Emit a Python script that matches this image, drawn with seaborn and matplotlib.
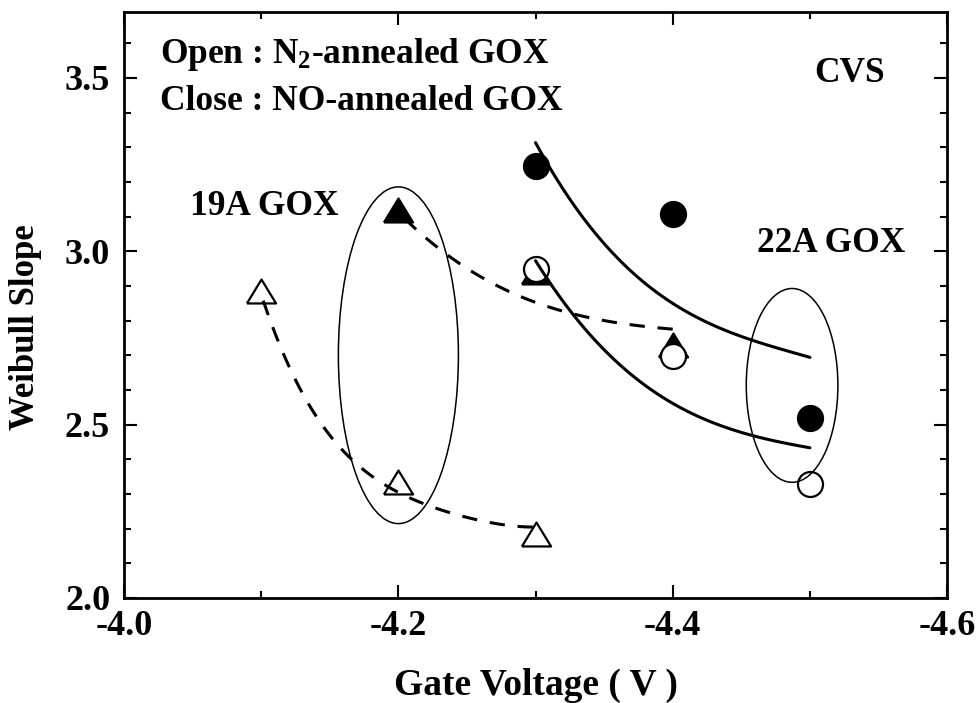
import matplotlib
matplotlib.use("Agg")
import numpy as np
import pandas as pd
import seaborn as sns
import matplotlib.pyplot as plt
from matplotlib.patches import Ellipse
from matplotlib.ticker import MultipleLocator

# Measured Weibull slopes versus gate voltage
v19_n2 = [-4.1, -4.2, -4.3]
slope19_n2 = [2.885, 2.335, 2.185]
v19_no = [-4.2, -4.3, -4.4]
slope19_no = [3.12, 2.94, 2.73]
v22 = [-4.3, -4.4, -4.5]
slope22_no = [3.245, 3.107, 2.52]
slope22_n2 = [2.948, 2.697, 2.33]

# Points along the trend curves
trend19_n2_v = [-4.100, -4.114, -4.128, -4.143, -4.162, -4.182, -4.199, -4.218, -4.243, -4.279, -4.298]
trend19_n2_s = [2.870, 2.741, 2.592, 2.505, 2.418, 2.351, 2.307, 2.269, 2.240, 2.211, 2.204]
trend19_no_v = [-4.200, -4.211, -4.235, -4.260, -4.296, -4.332, -4.369, -4.400]
trend19_no_s = [3.110, 3.073, 2.991, 2.924, 2.861, 2.813, 2.789, 2.775]
trend22_v = [-4.300, -4.323, -4.347, -4.371, -4.396, -4.420, -4.456, -4.500]
trend22_no_s = [3.314, 3.160, 3.035, 2.939, 2.861, 2.803, 2.746, 2.694]
trend22_n2_s = [2.972, 2.842, 2.726, 2.640, 2.572, 2.520, 2.471, 2.433]

x_ticks = [-4.0, -4.2, -4.4, -4.6]
y_ticks = [2.0, 2.5, 3.0, 3.5]

sns.set_style("ticks")
plt.rcParams.update({
    "font.family": ["Liberation Serif", "DejaVu Serif"],
    "font.weight": "bold",
    "text.color": "black",
    "axes.labelcolor": "black",
    "xtick.color": "black",
    "ytick.color": "black",
    "axes.unicode_minus": False,
    "mathtext.fontset": "custom",
    "mathtext.rm": "Liberation Serif:bold",
    "mathtext.it": "Liberation Serif:bold",
    "mathtext.bf": "Liberation Serif:bold",
})

fig = plt.figure(figsize=(9.79, 7.03), dpi=100)
ax = fig.add_axes([0.1267, 0.1494, 0.8407, 0.8336])

FS = 25.5
TICK_FS = 26
# slightly flattened triangle
tri = [(-1.0, -0.82), (1.0, -0.82), (0.0, 0.82), (-1.0, -0.82)]
tri_size = 21 ** 2
circ_size = 18 ** 2
edge_w = 1.6

# markers
sns.scatterplot(x=v19_n2, y=slope19_n2, marker=tri, s=tri_size, color="white",
                edgecolor="black", linewidth=edge_w, ax=ax, zorder=2)
sns.scatterplot(x=v19_no, y=slope19_no, marker=tri, s=tri_size, color="black",
                edgecolor="black", linewidth=edge_w, ax=ax, zorder=2)
sns.scatterplot(x=v22, y=slope22_no, marker="o", s=circ_size, color="black",
                edgecolor="black", linewidth=edge_w, ax=ax, zorder=2.1)
sns.scatterplot(x=v22, y=slope22_n2, marker="o", s=circ_size, color="white",
                edgecolor="black", linewidth=edge_w, ax=ax, zorder=2.2)

# trend curves
dash_kws = dict(color="black", lw=2.2, ls=(0, (5.0, 4.2)), zorder=3)
solid_kws = dict(color="black", lw=2.2, ls="-", zorder=3)
sns.regplot(x=trend19_n2_v, y=trend19_n2_s, order=4, ci=None, scatter=False,
            ax=ax, line_kws=dash_kws)
sns.regplot(x=trend19_no_v, y=trend19_no_s, order=3, ci=None, scatter=False,
            ax=ax, line_kws=dash_kws)
sns.regplot(x=trend22_v, y=trend22_no_s, order=3, ci=None, scatter=False,
            ax=ax, line_kws=solid_kws)
sns.regplot(x=trend22_v, y=trend22_n2_s, order=3, ci=None, scatter=False,
            ax=ax, line_kws=solid_kws)

# group outlines
ax.add_patch(Ellipse((-4.2, 2.70), 0.0875, 0.971, fill=False, ec="black",
                     lw=1.1, zorder=4))
ax.add_patch(Ellipse((-4.487, 2.613), 0.0668, 0.559, fill=False, ec="black",
                     lw=1.1, zorder=4))

# axes
ax.set_xlim(-4.0, -4.6)
ax.set_ylim(2.0, 3.69)
ax.set_xticks(x_ticks)
ax.set_yticks(y_ticks)
ax.set_xticklabels([f"{v:.1f}" for v in x_ticks])
ax.set_yticklabels([f"{v:.1f}" for v in y_ticks])
ax.xaxis.set_minor_locator(MultipleLocator(0.1))
ax.yaxis.set_minor_locator(MultipleLocator(0.1))
ax.tick_params(which="both", direction="in", top=True, right=True,
               colors="black", width=1.5)
ax.tick_params(which="major", length=9.5, labelsize=TICK_FS)
ax.tick_params(which="minor", length=5)
ax.tick_params(axis="x", which="major", pad=9)
ax.tick_params(axis="y", which="major", pad=10)
for lab in ax.get_xticklabels() + ax.get_yticklabels():
    lab.set_fontweight("bold")
for sp in ax.spines.values():
    sp.set_linewidth(2.0)
    sp.set_color("black")

ax.set_xlabel("Gate Voltage ( V )", fontsize=27, fontweight="bold")
ax.set_ylabel("Weibull Slope", fontsize=25, fontweight="bold")
ax.xaxis.set_label_coords(0.5, -0.12)
ax.yaxis.set_label_coords(-0.1, 0.4625)

tr = ax.transAxes
ax.text(0.0437, 0.913, r"Open : N$_{2}$-annealed GOX", transform=tr,
        fontsize=FS, fontweight="bold", va="baseline", ha="left")
ax.text(0.0437, 0.833, "Close : NO-annealed GOX", transform=tr,
        fontsize=FS, fontweight="bold", va="baseline", ha="left")
ax.text(0.882, 0.8805, "CVS", transform=tr, fontsize=FS, fontweight="bold",
        va="baseline", ha="center")
ax.text(0.0802, 0.6536, "19A GOX", transform=tr, fontsize=FS,
        fontweight="bold", va="baseline", ha="left")
ax.text(0.769, 0.590, "22A GOX", transform=tr, fontsize=FS,
        fontweight="bold", va="baseline", ha="left")

fig.savefig("out.png", dpi=100, facecolor="white")
